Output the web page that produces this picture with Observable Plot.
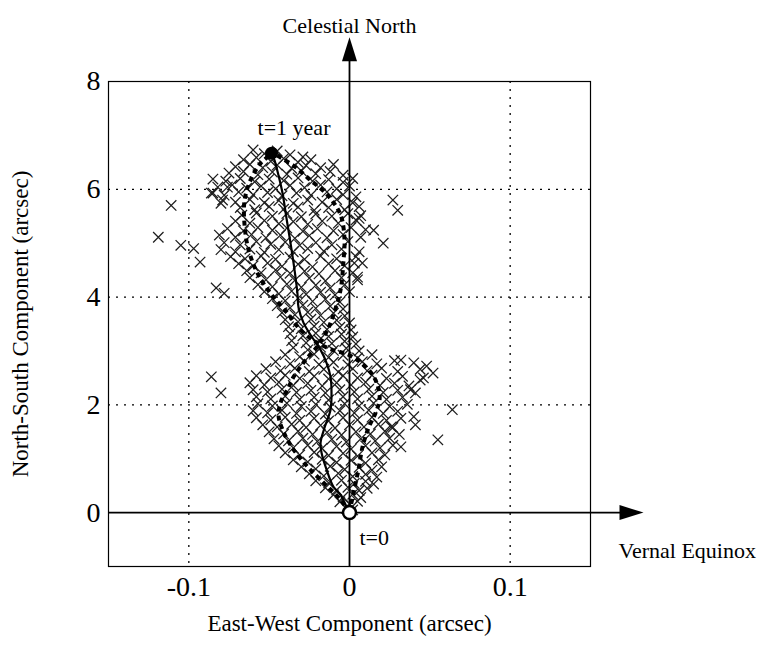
<!DOCTYPE html>
<html>
<head>
<meta charset="utf-8">
<script src="https://cdn.jsdelivr.net/npm/d3@7"></script>
<script src="https://cdn.jsdelivr.net/npm/@observablehq/plot@0.6"></script>
<style>
  html, body { margin: 0; padding: 0; background: #fff; }
  svg { display: block; }
</style>
</head>
<body>
<div id="chart"></div>
<script>
// ---- data (arcsec) ----
const xTicks = [-0.1, 0, 0.1];
const xTickLabels = ["-0.1", "0", "0.1"];
const yTicks = [0, 2, 4, 6, 8];
const yTickLabels = ["0", "2", "4", "6", "8"];
const xGrid = [-0.1, 0.1];
const yGrid = [2, 4, 6];

// mean trajectory (solid line), t=0 .. t=1 year
const meanEW = [0, -0.0025, -0.0056, -0.010, -0.0143, -0.0174, -0.018, -0.0156, -0.0118, -0.0112, -0.0118, -0.0143, -0.018, -0.0243, -0.0286, -0.0317, -0.0324, -0.0342, -0.0367, -0.0392, -0.0417, -0.0442, -0.0467, -0.0485];
const meanNS = [0, 0.15, 0.33, 0.48, 0.80, 1.11, 1.30, 1.57, 1.91, 2.22, 2.52, 2.78, 3.02, 3.30, 3.52, 3.80, 4.07, 4.50, 5.00, 5.46, 5.93, 6.26, 6.54, 6.67];

// envelope boundary A (dashed)
const boundAEW = [0, -0.0056, -0.0149, -0.0261, -0.0348, -0.0411, -0.0442, -0.0423, -0.0386, -0.0348, -0.0274, -0.0193, -0.0137, -0.0100, -0.0056, -0.0037, -0.0031, -0.0050, -0.0087, -0.0149, -0.0243, -0.0336, -0.0429, -0.0479];
const boundANS = [0, 0.24, 0.52, 0.85, 1.17, 1.50, 1.81, 2.09, 2.28, 2.52, 2.83, 3.11, 3.39, 3.67, 4.13, 4.69, 5.06, 5.48, 5.70, 5.93, 6.17, 6.41, 6.59, 6.67];
// envelope boundary B (dashed)
const boundBEW = [0, 0.0025, 0.0056, 0.0081, 0.0118, 0.0162, 0.0187, 0.0180, 0.0143, 0.0081, -0.0006, -0.0106, -0.0212, -0.0305, -0.0386, -0.0492, -0.0572, -0.0628, -0.0653, -0.0653, -0.0616, -0.0554, -0.0479];
const boundBNS = [0, 0.37, 0.80, 1.22, 1.57, 1.85, 2.09, 2.31, 2.56, 2.76, 2.93, 3.02, 3.17, 3.39, 3.70, 4.07, 4.44, 4.87, 5.33, 5.80, 6.17, 6.48, 6.67];

// Monte Carlo samples [east-west, north-south]
const monteCarlo = [
[-0.060,6.73],[-0.053,6.66],[-0.045,6.71],[-0.037,6.64],[-0.029,6.60],
[-0.066,6.55],[-0.058,6.59],[-0.049,6.52],[-0.041,6.57],[-0.032,6.50],[-0.024,6.55],
[-0.071,6.42],[-0.062,6.46],[-0.054,6.40],[-0.045,6.45],[-0.036,6.39],[-0.027,6.44],[-0.018,6.40],[-0.010,6.46],
[-0.075,6.30],[-0.066,6.33],[-0.057,6.27],[-0.048,6.32],[-0.039,6.28],[-0.030,6.34],[-0.021,6.29],[-0.012,6.33],[-0.004,6.26],
[-0.085,6.19],[-0.077,6.15],[-0.068,6.20],[-0.059,6.14],[-0.050,6.19],[-0.041,6.16],[-0.032,6.21],[-0.023,6.15],[-0.013,6.18],[-0.004,6.13],[0.002,6.20],
[-0.082,6.04],[-0.073,6.08],[-0.064,6.02],[-0.055,6.06],[-0.046,6.01],[-0.037,6.07],[-0.028,6.03],[-0.018,6.08],[-0.008,6.01],[0.000,6.06],
[-0.086,5.93],[-0.078,5.89],[-0.069,5.95],[-0.060,5.90],[-0.051,5.94],[-0.042,5.88],[-0.033,5.93],[-0.024,5.89],[-0.014,5.95],[-0.004,5.90],[0.004,5.86],
[-0.079,5.80],[-0.071,5.76],[-0.062,5.81],[-0.053,5.75],[-0.044,5.79],[-0.035,5.74],[-0.026,5.80],[-0.017,5.76],[-0.008,5.81],[0.002,5.75],
[-0.068,5.66],[-0.059,5.62],[-0.050,5.68],[-0.041,5.63],[-0.032,5.67],[-0.022,5.61],[-0.013,5.66],[-0.003,5.62],[0.006,5.68],
[-0.067,5.52],[-0.058,5.56],[-0.048,5.50],[-0.039,5.55],[-0.030,5.49],[-0.021,5.54],[-0.011,5.50],[-0.001,5.55],[0.007,5.51],
[-0.071,5.41],[-0.062,5.37],[-0.053,5.42],[-0.044,5.36],[-0.035,5.40],[-0.026,5.35],[-0.017,5.41],[-0.007,5.37],[0.004,5.43],
[-0.076,5.27],[-0.066,5.23],[-0.057,5.29],[-0.048,5.24],[-0.039,5.28],[-0.029,5.22],[-0.020,5.27],[-0.010,5.23],[0.001,5.29],[0.010,5.25],
[-0.081,5.15],[-0.071,5.11],[-0.061,5.16],[-0.052,5.10],[-0.043,5.15],[-0.034,5.09],[-0.025,5.14],[-0.014,5.10],[-0.004,5.16],[0.007,5.11],
[-0.078,5.01],[-0.068,4.97],[-0.058,5.03],[-0.049,4.98],[-0.040,5.02],[-0.031,4.96],[-0.021,5.01],[-0.011,4.97],[-0.001,5.03],
[-0.080,4.88],[-0.071,4.84],[-0.062,4.89],[-0.053,4.83],[-0.044,4.88],[-0.035,4.84],[-0.026,4.90],[-0.016,4.85],[-0.005,4.89],[0.006,4.84],
[-0.074,4.75],[-0.065,4.71],[-0.055,4.76],[-0.046,4.70],[-0.037,4.74],[-0.028,4.70],[-0.018,4.76],[-0.008,4.71],[0.004,4.75],
[-0.069,4.62],[-0.060,4.58],[-0.051,4.63],[-0.042,4.57],[-0.032,4.61],[-0.023,4.56],[-0.013,4.62],[-0.003,4.58],[0.008,4.63],
[-0.064,4.49],[-0.055,4.45],[-0.046,4.50],[-0.037,4.44],[-0.028,4.48],[-0.019,4.43],[-0.009,4.49],[0.002,4.45],
[-0.062,4.36],[-0.052,4.32],[-0.043,4.37],[-0.034,4.31],[-0.025,4.35],[-0.015,4.30],[-0.005,4.36],[0.005,4.32],
[-0.057,4.23],[-0.048,4.19],[-0.039,4.24],[-0.030,4.18],[-0.021,4.22],[-0.012,4.17],[-0.003,4.23],
[-0.053,4.10],[-0.044,4.06],[-0.036,4.11],[-0.027,4.05],[-0.018,4.09],[-0.009,4.04],[0.000,4.10],
[-0.048,3.97],[-0.040,3.93],[-0.032,3.98],[-0.023,3.92],[-0.015,3.96],[-0.006,3.91],
[-0.045,3.84],[-0.037,3.80],[-0.029,3.85],[-0.021,3.79],[-0.012,3.83],[-0.004,3.78],
[-0.042,3.71],[-0.034,3.67],[-0.026,3.72],[-0.018,3.66],[-0.010,3.70],[-0.003,3.65],
[-0.040,3.58],[-0.032,3.54],[-0.024,3.59],[-0.016,3.53],[-0.008,3.57],[0.000,3.52],
[-0.038,3.45],[-0.030,3.41],[-0.022,3.46],[-0.014,3.40],[-0.006,3.44],[0.001,3.39],
[-0.037,3.32],[-0.029,3.28],[-0.021,3.33],[-0.013,3.27],[-0.005,3.31],[0.002,3.26],
[-0.036,3.19],[-0.027,3.15],[-0.019,3.20],[-0.011,3.14],[-0.003,3.18],[0.004,3.13],
[-0.035,3.06],[-0.026,3.02],[-0.018,3.07],[-0.010,3.01],[-0.002,3.05],[0.006,3.00],
[-0.040,2.93],[-0.031,2.89],[-0.022,2.94],[-0.013,2.88],[-0.004,2.92],[0.005,2.87],[0.014,2.93],
[-0.046,2.80],[-0.037,2.76],[-0.028,2.81],[-0.019,2.75],[-0.010,2.79],[-0.001,2.74],[0.008,2.80],[0.017,2.76],[0.028,2.82],[0.040,2.78],
[-0.052,2.67],[-0.043,2.63],[-0.034,2.68],[-0.025,2.62],[-0.016,2.66],[-0.007,2.61],[0.002,2.67],[0.011,2.63],[0.020,2.68],[0.030,2.62],[0.044,2.66],
[-0.058,2.54],[-0.049,2.50],[-0.040,2.55],[-0.031,2.49],[-0.022,2.53],[-0.013,2.48],[-0.004,2.54],[0.005,2.50],[0.014,2.55],[0.023,2.49],[0.033,2.53],[0.046,2.50],
[-0.062,2.41],[-0.053,2.37],[-0.044,2.42],[-0.035,2.36],[-0.026,2.40],[-0.017,2.35],[-0.008,2.41],[0.001,2.37],[0.010,2.42],[0.019,2.36],[0.028,2.40],[0.037,2.35],
[-0.060,2.28],[-0.051,2.24],[-0.042,2.29],[-0.033,2.23],[-0.024,2.27],[-0.015,2.22],[-0.006,2.28],[0.003,2.24],[0.012,2.29],[0.021,2.23],[0.030,2.27],[0.041,2.22],
[-0.058,2.15],[-0.049,2.11],[-0.040,2.16],[-0.031,2.10],[-0.022,2.14],[-0.013,2.09],[-0.004,2.15],[0.005,2.11],[0.014,2.16],[0.023,2.10],[0.033,2.14],
[-0.057,2.02],[-0.048,1.98],[-0.039,2.03],[-0.030,1.97],[-0.021,2.01],[-0.012,1.96],[-0.003,2.02],[0.006,1.98],[0.015,2.03],[0.025,1.97],[0.036,2.01],
[-0.060,1.89],[-0.051,1.85],[-0.042,1.90],[-0.033,1.84],[-0.024,1.88],[-0.015,1.83],[-0.006,1.89],[0.003,1.85],[0.012,1.90],[0.021,1.84],[0.030,1.88],
[-0.058,1.76],[-0.049,1.72],[-0.040,1.77],[-0.031,1.71],[-0.022,1.75],[-0.013,1.70],[-0.004,1.76],[0.005,1.72],[0.014,1.77],[0.023,1.71],[0.032,1.75],
[-0.054,1.63],[-0.045,1.59],[-0.036,1.64],[-0.027,1.58],[-0.018,1.62],[-0.009,1.57],[0.000,1.63],[0.009,1.59],[0.018,1.64],[0.027,1.58],
[-0.050,1.50],[-0.041,1.46],[-0.032,1.51],[-0.023,1.45],[-0.014,1.49],[-0.005,1.44],[0.004,1.50],[0.013,1.46],[0.022,1.51],[0.031,1.45],
[-0.047,1.37],[-0.038,1.33],[-0.029,1.38],[-0.020,1.32],[-0.011,1.36],[-0.002,1.31],[0.007,1.37],[0.016,1.33],[0.025,1.38],
[-0.044,1.24],[-0.035,1.20],[-0.026,1.25],[-0.017,1.19],[-0.008,1.23],[0.001,1.18],[0.010,1.24],[0.019,1.20],[0.027,1.25],
[-0.040,1.11],[-0.031,1.07],[-0.022,1.12],[-0.013,1.06],[-0.004,1.10],[0.005,1.05],[0.014,1.11],[0.022,1.07],
[-0.035,0.98],[-0.026,0.94],[-0.017,0.99],[-0.008,0.93],[0.001,0.97],[0.010,0.92],[0.018,0.98],
[-0.030,0.85],[-0.021,0.81],[-0.012,0.86],[-0.003,0.80],[0.006,0.84],[0.014,0.79],[0.020,0.85],
[-0.025,0.72],[-0.016,0.68],[-0.007,0.73],[0.002,0.67],[0.010,0.71],[0.017,0.66],
[-0.021,0.59],[-0.013,0.55],[-0.005,0.60],[0.003,0.54],[0.010,0.58],[0.015,0.53],
[-0.015,0.46],[-0.008,0.42],[-0.001,0.47],[0.006,0.41],[0.011,0.45],
[-0.010,0.33],[-0.004,0.29],[0.002,0.34],[0.007,0.28],
[-0.006,0.20],[0.000,0.16],[0.005,0.21],
[-0.002,0.08],[0.002,0.05],
// scattered outliers
[-0.119,5.11],[-0.111,5.70],[-0.105,4.96],[-0.097,4.90],[-0.093,4.65],[-0.083,4.17],[-0.078,4.07],
[-0.086,2.52],[-0.080,2.22],[0.055,1.35],[0.064,1.91],[0.052,2.59],[0.027,5.80],[0.030,5.61],
[0.015,5.24],[0.021,5.00],[0.006,5.46],[0.003,4.63],[0.005,4.37],[0.040,1.78],[0.044,2.46],
[0.032,2.83],[0.026,1.59],[0.032,1.22],[0.038,2.28],[-0.085,5.93],[-0.080,5.74],[-0.076,6.04],
[0.048,2.72],[0.041,1.63]
];

// axis arrows (north and vernal-equinox directions)
const northAxis = {ew: 0, nsFrom: -1, nsTo: 8.5, tip: 8.82};
const equinoxAxis = {ns: 0, ewFrom: -0.15, ewTo: 0.172, tip: 0.183};

const startPoint = [{ew: meanEW[0], ns: meanNS[0], label: "t=0"}];
const endPoint = [{ew: meanEW[meanEW.length - 1], ns: meanNS[meanNS.length - 1], label: "t=1 year"}];

// ---- drawing ----
const serif = "'Liberation Serif', 'Times New Roman', Times, serif";
const meanTrack = meanEW.map((ew, i) => ({ew, ns: meanNS[i]}));
const boundA = boundAEW.map((ew, i) => ({ew, ns: boundANS[i]}));
const boundB = boundBEW.map((ew, i) => ({ew, ns: boundBNS[i]}));

// filled elongated triangle arrowhead, tip at the anchor point, pointing up
const arrowHead = {
  draw(context) {
    context.moveTo(0, 0);
    context.lineTo(7.5, 24);
    context.lineTo(-7.5, 24);
    context.closePath();
  }
};

const chart = Plot.plot({
  width: 771,
  height: 649,
  marginLeft: 108,
  marginRight: 181,
  marginTop: 81,
  marginBottom: 83,
  style: {fontFamily: serif, background: "#fff", color: "#000"},
  x: {domain: [-0.15, 0.15]},
  y: {domain: [-1, 8]},
  marks: [
    Plot.gridX(xGrid, {stroke: "#000", strokeOpacity: 1, strokeWidth: 1.3, strokeDasharray: "2,6"}),
    Plot.gridY(yGrid, {stroke: "#000", strokeOpacity: 1, strokeWidth: 1.3, strokeDasharray: "2,6"}),
    Plot.dot(monteCarlo, {x: d => d[0], y: d => d[1], symbol: "times", r: 4.8, stroke: "#1e1e1e", strokeWidth: 1.25}),
    Plot.ruleX([northAxis], {x: "ew", y1: "nsFrom", y2: "nsTo", stroke: "#000", strokeWidth: 1.8}),
    Plot.ruleY([equinoxAxis], {y: "ns", x1: "ewFrom", x2: "ewTo", stroke: "#000", strokeWidth: 1.8}),
    Plot.dot([northAxis], {x: "ew", y: "tip", symbol: arrowHead, fill: "#000", stroke: "none", r: 8}),
    Plot.dot([equinoxAxis], {x: "tip", y: "ns", symbol: arrowHead, fill: "#000", stroke: "none", r: 8, rotate: 90}),
    Plot.line(boundA, {x: "ew", y: "ns", stroke: "#000", strokeWidth: 4, strokeDasharray: "5,4", strokeLinecap: "butt", strokeLinejoin: "miter", curve: "catmull-rom"}),
    Plot.line(boundB, {x: "ew", y: "ns", stroke: "#000", strokeWidth: 4, strokeDasharray: "5,4", strokeLinecap: "butt", strokeLinejoin: "miter", curve: "catmull-rom"}),
    Plot.line(meanTrack, {x: "ew", y: "ns", stroke: "#000", strokeWidth: 2.2, curve: "catmull-rom"}),
    Plot.frame({stroke: "#000", strokeWidth: 1.2}),
    Plot.dot(endPoint, {x: "ew", y: "ns", r: 6.5, fill: "#000", stroke: "none"}),
    Plot.dot(startPoint, {x: "ew", y: "ns", r: 6.5, fill: "#fff", stroke: "#000", strokeWidth: 2.5}),
    Plot.text(endPoint, {x: "ew", y: "ns", text: "label", textAnchor: "start", dx: -14, dy: -25, fontSize: 22}),
    Plot.text(startPoint, {x: "ew", y: "ns", text: "label", textAnchor: "start", dx: 10, dy: 25, fontSize: 22}),
    Plot.text([northAxis], {x: "ew", frameAnchor: "top", textAnchor: "middle", dy: -64, text: () => "Celestial North", fontSize: 22}),
    Plot.text([equinoxAxis], {y: "ns", frameAnchor: "right", textAnchor: "start", dx: 28, dy: 38, text: () => "Vernal Equinox", fontSize: 22}),
    Plot.axisX(xTicks, {tickSize: 0, tickPadding: 10, fontSize: 28, tickFormat: (d, i) => xTickLabels[i], label: null}),
    Plot.axisY(yTicks, {tickSize: 0, tickPadding: 8, fontSize: 28, tickFormat: (d, i) => yTickLabels[i], label: null}),
    Plot.text(["East-West Component (arcsec)"], {frameAnchor: "bottom", textAnchor: "middle", dy: 64, text: d => d, fontSize: 23}),
    Plot.text(["North-South Component (arcsec)"], {frameAnchor: "left", textAnchor: "middle", dx: -88, rotate: -90, text: d => d, fontSize: 23})
  ]
});

document.getElementById("chart").appendChild(chart);
</script>
</body>
</html>
